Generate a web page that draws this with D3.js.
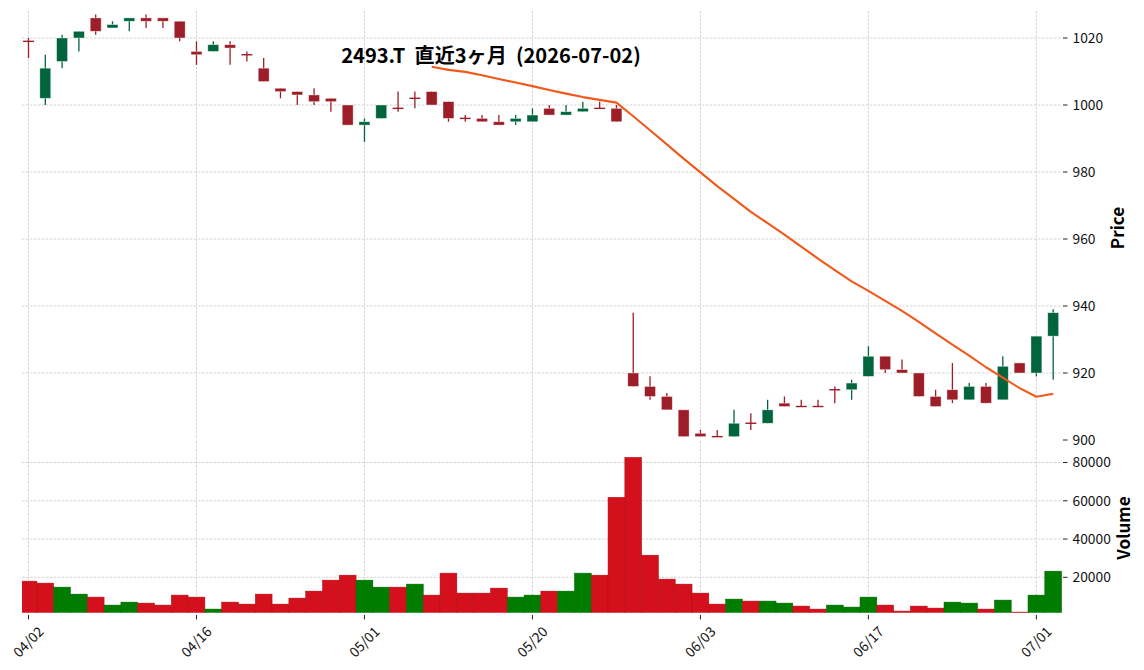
<!DOCTYPE html>
<html><head><meta charset="utf-8">
<script src="https://cdn.jsdelivr.net/npm/d3@7"></script>
<style>body{margin:0;background:#fff}svg{display:block}</style>
</head><body><svg id="c" width="1144" height="670"></svg>
<script>
const dates = ["04/02","04/03","04/06","04/07","04/08","04/09","04/10","04/13","04/14","04/15",
"04/16","04/17","04/20","04/21","04/22","04/23","04/24","04/27","04/28","04/30",
"05/01","05/07","05/08","05/11","05/12","05/13","05/14","05/15","05/18","05/19",
"05/20","05/21","05/22","05/25","05/26","05/27","05/28","05/29","06/01","06/02",
"06/03","06/04","06/05","06/08","06/09","06/10","06/11","06/12","06/15","06/16",
"06/17","06/18","06/19","06/22","06/23","06/24","06/25","06/26","06/29","06/30",
"07/01","07/02"];
const opens = [1019,1002,1013,1020,1026,1023,1025,1026,1026,1025,
1016,1016,1018,1015,1011,1005,1004,1003,1002,1000,
994,996,999,1002,1004,1001,996,996,995,995,
995,999,997,998,999,999,920,916,913,909,
902,901,901,905,905,911,910,910,915,915,
919,925,921,920,913,915,912,916,912,923,
920,931];
const highs = [1020,1015,1021,1022,1027,1025,1026,1027,1026,1025,
1019,1019,1019,1016,1014,1005,1004,1005,1002,1000,
996,1000,1004,1004,1004,1001,997,997,997,997,
999,1000,1000,1001,1001,1000,938,919,914,909,
903,903,909,908,912,913,912,912,916,918,
928,925,924,920,915,923,917,917,925,923,
931,939];
const lows = [1014,1000,1011,1016,1021,1023,1022,1023,1023,1019,
1012,1016,1012,1013,1007,1002,1000,1000,998,994,
989,996,998,999,1000,995,995,995,994,994,
995,997,997,998,999,995,916,912,909,901,
901,901,901,903,905,910,910,910,911,912,
919,920,920,913,910,911,912,911,912,920,
919,918];
const closes = [1019,1011,1020,1022,1022,1024,1026,1025,1025,1020,
1015,1018,1017,1015,1007,1004,1003,1001,1001,994,
995,1000,999,1002,1000,996,996,995,994,996,
997,997,998,999,999,995,916,913,909,901,
901,901,905,905,909,910,910,910,915,917,
925,921,920,913,910,912,916,911,922,920,
931,938];
const volumes = [18000,16960,14870,11220,9650,5480,7040,6520,5480,10700,
9650,3390,7040,6000,11220,6000,9130,12780,18520,21130,
18520,14870,14870,16440,10700,22180,11740,11740,14350,9650,
10700,12780,12780,22180,21130,61830,82700,31570,19050,16440,
11740,6000,8610,7570,7570,6520,4960,3390,5480,4440,
9650,5480,2350,4960,3910,7040,6520,3390,8090,1830,
10700,23220];
const priceTicks = [900,920,940,960,980,1000,1020];
const volumeTicks = [20000,40000,60000,80000];
const xTickIdx = [0,10,20,30,40,50,60];
const maWindow = 25;
const titleText = "2493.T  直近3ヶ月  (2026-07-02)";

const svg = d3.select("#c");
const L = 22, R = 1062, PT = 11, PB = 440, VT = 440, VB = 612.7;
const FONT = "'Noto Sans CJK JP','Noto Sans',sans-serif";

const x = d3.scaleLinear().domain([-0.387, 61.524]).range([L, R]);
const step = x(1) - x(0);
const yP = d3.scaleLinear().domain([900, 1028.06]).range([PB, PT]);
const yV = d3.scaleLinear().domain([1500, 91780]).range([VB, VT]);

const UP = "#00653d", DOWN = "#9d1e28", VUP = "#007c00", VDOWN = "#d3101b";

const defs = svg.append("defs");
defs.append("clipPath").attr("id","cp").append("rect").attr("x",L).attr("y",PT).attr("width",R-L).attr("height",PB-PT);
defs.append("clipPath").attr("id","cv").append("rect").attr("x",L).attr("y",VT).attr("width",R-L).attr("height",VB-VT);

const gridStyle = s => s.attr("stroke","#c9c9c9").attr("stroke-width",0.8).attr("stroke-dasharray","2.6,1.4");

// grids
const g = svg.append("g");
priceTicks.filter(t => t > 900).forEach(t => {
  gridStyle(g.append("line").attr("x1",L).attr("x2",R).attr("y1",yP(t)).attr("y2",yP(t)));
});
volumeTicks.forEach(t => {
  gridStyle(g.append("line").attr("x1",L).attr("x2",R).attr("y1",yV(t)).attr("y2",yV(t)));
});
xTickIdx.forEach(i => {
  gridStyle(g.append("line").attr("x1",x(i)).attr("x2",x(i)).attr("y1",PT).attr("y2",PB-1));
  gridStyle(g.append("line").attr("x1",x(i)).attr("x2",x(i)).attr("y1",VT+1).attr("y2",VB));
});

// volume
const vcol = volumes.map((v,i) => i === 0 ? (opens[0] < closes[0] ? VUP : VDOWN) : (closes[i-1] < closes[i] ? VUP : VDOWN));
svg.append("g").attr("clip-path","url(#cv)").selectAll("rect").data(volumes).join("rect")
  .attr("x",(d,i)=>x(i)-step/2).attr("width",step)
  .attr("y",d=>yV(d)).attr("height",d=>VB+2-yV(d))
  .attr("fill",(d,i)=>vcol[i]).attr("stroke",(d,i)=>d3.color(vcol[i]).darker(0.6)).attr("stroke-width",0.5);

// candles
const cg = svg.append("g").attr("clip-path","url(#cp)");
const ccol = closes.map((c,i)=> opens[i] < c ? UP : DOWN);
cg.selectAll("line.w").data(closes).join("line").attr("class","w")
  .attr("x1",(d,i)=>x(i)).attr("x2",(d,i)=>x(i))
  .attr("y1",(d,i)=>yP(highs[i])).attr("y2",(d,i)=>yP(lows[i]))
  .attr("stroke",(d,i)=>ccol[i]).attr("stroke-width",1.3);
const bw = step*0.65;
cg.selectAll("rect.b").data(closes).join("rect").attr("class","b")
  .attr("x",(d,i)=>x(i)-bw/2).attr("width",bw)
  .attr("y",(d,i)=>{const t=yP(Math.max(opens[i],d)), b=yP(Math.min(opens[i],d)); return b-t<1.4 ? (t+b)/2-0.7 : t;})
  .attr("height",(d,i)=>Math.max(1.4, yP(Math.min(opens[i],d))-yP(Math.max(opens[i],d))))
  .attr("fill",(d,i)=>ccol[i])
  .attr("stroke",(d,i)=> Math.abs(opens[i]-d) < 0.5 ? "none" : "#ffffff").attr("stroke-opacity",0.55).attr("stroke-width",0.7);

// moving average
const ma = closes.map((c,i)=> i < maWindow-1 ? null : d3.mean(closes.slice(i-maWindow+1, i+1)));
cg.append("path").datum(ma.map((v,i)=>[i,v]).filter(d=>d[1]!==null))
  .attr("fill","none").attr("stroke","#f2581a").attr("stroke-width",2.1).attr("stroke-linejoin","round")
  .attr("d", d3.line().x(d=>x(d[0])).y(d=>yP(d[1])));

// right axes
const ax = svg.append("g").attr("font-family",FONT).attr("font-size",13.8).attr("fill","#111");
priceTicks.forEach(t => {
  ax.append("line").attr("x1",1063).attr("x2",1067.5).attr("y1",yP(t)).attr("y2",yP(t)).attr("stroke","#222").attr("stroke-width",1);
  ax.append("text").attr("x",1072.5).attr("y",yP(t)).attr("dy","0.35em").text(t);
});
volumeTicks.forEach(t => {
  ax.append("line").attr("x1",1063).attr("x2",1067.5).attr("y1",yV(t)).attr("y2",yV(t)).attr("stroke","#222").attr("stroke-width",1);
  ax.append("text").attr("x",1072.5).attr("y",yV(t)).attr("dy","0.35em").text(d3.format("d")(t));
});
// x axis ticks
xTickIdx.forEach(i => {
  ax.append("line").attr("x1",x(i)).attr("x2",x(i)).attr("y1",615).attr("y2",619.5).attr("stroke","#222").attr("stroke-width",1);
  ax.append("text").attr("transform",`translate(${x(i)},642) rotate(-45)`).attr("text-anchor","middle").attr("dy","0.35em").text(dates[i]);
});

// axis labels
svg.append("text").attr("transform","translate(1118.5,228) rotate(-90)").attr("text-anchor","middle").attr("dy","0.35em")
  .attr("font-family",FONT).attr("font-weight","bold").attr("font-size",17).attr("fill","#000").text("Price");
svg.append("text").attr("transform","translate(1124.5,528) rotate(-90)").attr("text-anchor","middle").attr("dy","0.35em")
  .attr("font-family",FONT).attr("font-weight","bold").attr("font-size",17).attr("fill","#000").text("Volume");

// title
svg.append("text").attr("x",491).attr("y",63.3).attr("text-anchor","middle").attr("xml:space","preserve")
  .style("white-space","pre")
  .attr("font-family",FONT).attr("font-weight","bold").attr("font-size",20.1).attr("fill","#000").text(titleText);
</script></body></html>
